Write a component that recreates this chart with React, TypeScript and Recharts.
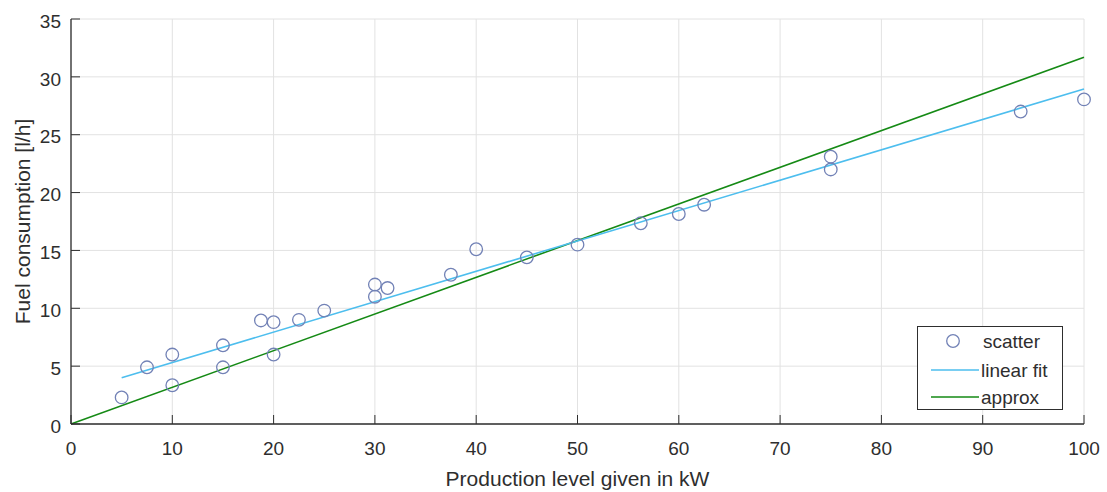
import React from 'react';
import {
  ComposedChart,
  Line,
  Scatter,
  XAxis,
  YAxis,
  CartesianGrid,
  Legend,
} from 'recharts';

// measured points
const productionKw = [5, 7.5, 10, 10, 15, 15, 18.75, 20, 20, 22.5, 25, 30, 30, 31.25, 37.5, 40, 45, 50, 56.25, 60, 62.5, 75, 75, 93.75, 100];
const fuelLph = [2.3, 4.9, 6.0, 3.35, 6.8, 4.9, 8.95, 8.8, 6.0, 9.0, 9.8, 12.05, 11.0, 11.75, 12.9, 15.1, 14.4, 15.5, 17.35, 18.15, 18.95, 23.1, 22.0, 27.0, 28.05];

// fitted line endpoints
const fitKw = [5, 100];
const fitLph = [4.0, 28.95];

// approximation endpoints
const approxKw = [0, 100];
const approxLph = [0, 31.7];

const xTicks = [0, 10, 20, 30, 40, 50, 60, 70, 80, 90, 100];
const yTicks = [0, 5, 10, 15, 20, 25, 30, 35];

const scatterData = productionKw.map((x, i) => ({ x, y: fuelLph[i] }));
const fitData = fitKw.map((x, i) => ({ x, y: fitLph[i] }));
const approxData = approxKw.map((x, i) => ({ x, y: approxLph[i] }));

const FONT = '"Liberation Sans", Arial, Helvetica, sans-serif';
const TEXT = '#2e2e2e';
const CIRCLE = '#7282b6';
const FIT = '#4dbeee';
const APPROX = '#158a15';

const Ring = (props: any) => (
  <circle cx={props.cx} cy={props.cy} r={6.3} fill="none" stroke={CIRCLE} strokeWidth={1.3} />
);

const YTitle = ({ viewBox }: any) => {
  const cx = viewBox.x + 1;
  const cy = viewBox.y + viewBox.height / 2;
  return (
    <text
      x={cx}
      y={cy}
      transform={`rotate(-90 ${cx} ${cy})`}
      textAnchor="middle"
      dominantBaseline="central"
      fill={TEXT}
      fontSize={21}
      fontFamily={FONT}
    >
      Fuel consumption [l/h]
    </text>
  );
};

const XTitle = ({ viewBox }: any) => (
  <text
    x={viewBox.x + viewBox.width / 2}
    y={486}
    textAnchor="middle"
    fill={TEXT}
    fontSize={21}
    fontFamily={FONT}
  >
    Production level given in kW
  </text>
);

const LegendBox = () => (
  <div style={{ width: 146, height: 84, boxSizing: 'border-box', border: `1px solid ${TEXT}`, background: '#fff' }}>
    <svg width={144} height={82} style={{ display: 'block' }}>
      <circle cx={35} cy={14} r={6.3} fill="none" stroke={CIRCLE} strokeWidth={1.3} />
      <line x1={13} x2={61} y1={43} y2={43} stroke={FIT} strokeWidth={1.5} />
      <line x1={13} x2={61} y1={70} y2={70} stroke={APPROX} strokeWidth={1.5} />
      <g fill={TEXT} fontSize={19} fontFamily={FONT}>
        <text x={65} y={21}>scatter</text>
        <text x={63} y={50}>linear fit</text>
        <text x={63} y={77}>approx</text>
      </g>
    </svg>
  </div>
);

export default function App() {
  return (
    <div style={{ position: 'absolute', left: 0, top: 0, width: 1107, height: 492, background: '#fff' }}>
      <ComposedChart
        width={1107}
        height={492}
        margin={{ top: 19, right: 23, left: 21, bottom: 38 }}
      >
        <CartesianGrid stroke="#e2e2e2" strokeWidth={1} />
        <XAxis
          type="number"
          dataKey="x"
          domain={[0, 100]}
          ticks={xTicks}
          height={30}
          interval={0}
          stroke={TEXT}
          axisLine={{ stroke: TEXT, strokeWidth: 1.3 }}
          tickSize={-9}
          tickMargin={27}
          tick={{ fill: TEXT, fontSize: 19, fontFamily: FONT }}
          label={<XTitle />}
        />
        <YAxis
          type="number"
          dataKey="y"
          domain={[0, 35]}
          ticks={yTicks}
          width={50}
          interval={0}
          stroke={TEXT}
          axisLine={{ stroke: TEXT, strokeWidth: 1.3 }}
          tickSize={-9}
          tickMargin={19}
          tick={{ fill: TEXT, fontSize: 19, fontFamily: FONT, dy: 2 }}
          label={<YTitle />}
        />
        <Line
          data={approxData}
          dataKey="y"
          type="linear"
          stroke={APPROX}
          strokeWidth={1.6}
          dot={false}
          activeDot={false}
          isAnimationActive={false}
        />
        <Line
          data={fitData}
          dataKey="y"
          type="linear"
          stroke={FIT}
          strokeWidth={1.6}
          dot={false}
          activeDot={false}
          isAnimationActive={false}
        />
        <Scatter data={scatterData} dataKey="y" shape={<Ring />} isAnimationActive={false} />
        <Legend
          layout="vertical"
          align="center"
          verticalAlign="middle"
          content={<LegendBox />}
          wrapperStyle={{ left: 917, top: 326, width: 146, height: 84 }}
        />
      </ComposedChart>
    </div>
  );
}
